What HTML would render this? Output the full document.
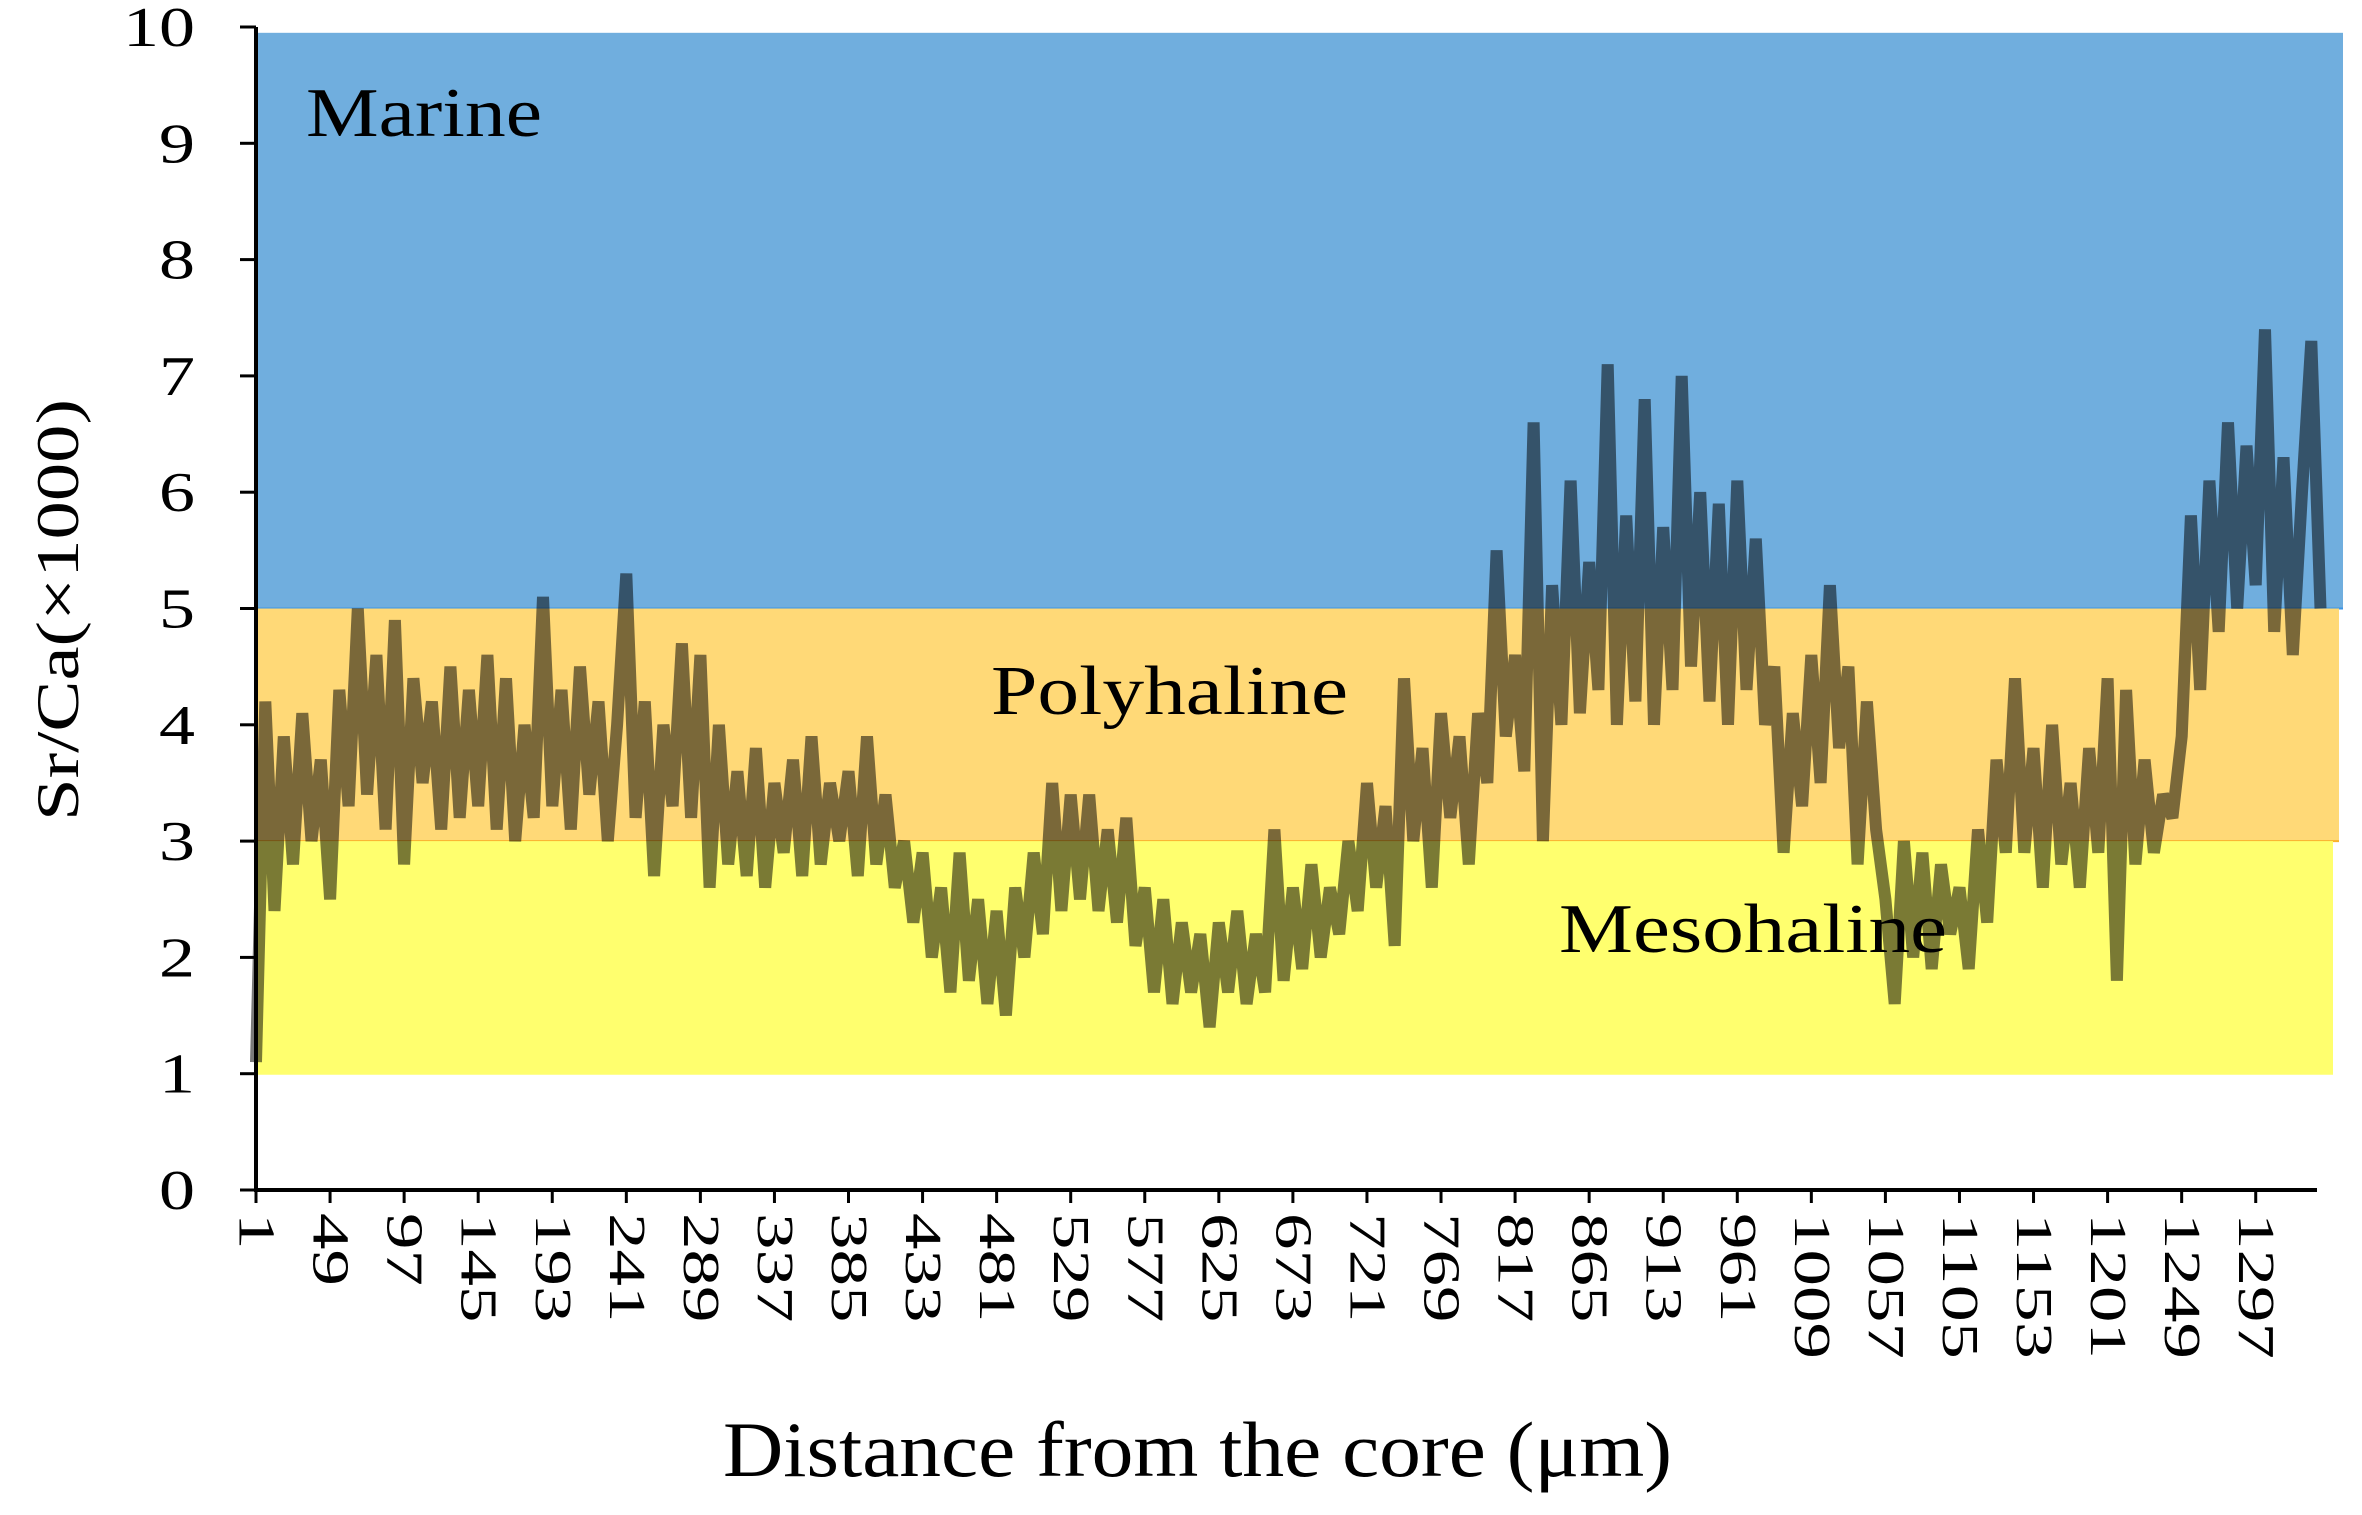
<!DOCTYPE html>
<html><head><meta charset="utf-8"><style>
html,body{margin:0;padding:0;background:#fff;}
svg{display:block;font-family:"Liberation Serif",serif;}
</style></head><body>
<svg id="chart" width="2362" height="1515" viewBox="0 0 2362 1515" xmlns="http://www.w3.org/2000/svg">
<g id="bands"></g>
<g id="series"></g>
<g id="axes"></g>
<g id="labels"></g>
</svg>
<script>
const distStart = 1;
const distStep = 6;
const srca = [
1.1,4.2,2.4,3.9,2.8,4.1,3.0,3.7,2.5,4.3,
3.3,5.0,3.4,4.6,3.1,4.9,2.8,4.4,3.5,4.2,
3.1,4.5,3.2,4.3,3.3,4.6,3.1,4.4,3.0,4.0,
3.2,5.1,3.3,4.3,3.1,4.5,3.4,4.2,3.0,4.0,
5.3,3.2,4.2,2.7,4.0,3.3,4.7,3.2,4.6,2.6,
4.0,2.8,3.6,2.7,3.8,2.6,3.5,2.9,3.7,2.7,
3.9,2.8,3.5,3.0,3.6,2.7,3.9,2.8,3.4,2.6,
3.0,2.3,2.9,2.0,2.6,1.7,2.9,1.8,2.5,1.6,
2.4,1.5,2.6,2.0,2.9,2.2,3.5,2.4,3.4,2.5,
3.4,2.4,3.1,2.3,3.2,2.1,2.6,1.7,2.5,1.6,
2.3,1.7,2.2,1.4,2.3,1.7,2.4,1.6,2.2,1.7,
3.1,1.8,2.6,1.9,2.8,2.0,2.6,2.2,3.0,2.4,
3.5,2.6,3.3,2.1,4.4,3.0,3.8,2.6,4.1,3.2,
3.9,2.8,4.1,3.5,5.5,3.9,4.6,3.6,6.6,3.0,
5.2,4.0,6.1,4.1,5.4,4.3,7.1,4.0,5.8,4.2,
6.8,4.0,5.7,4.3,7.0,4.5,6.0,4.2,5.9,4.0,
6.1,4.3,5.6,4.0,4.5,2.9,4.1,3.3,4.6,3.5,
5.2,3.8,4.5,2.8,4.2,3.1,2.5,1.6,3.0,2.0,
2.9,1.9,2.8,2.2,2.6,1.9,3.1,2.3,3.7,2.9,
4.4,2.9,3.8,2.6,4.0,2.8,3.5,2.6,3.8,2.9,
4.4,1.8,4.3,2.8,3.7,2.9,3.4,3.2,3.9,5.8,
4.3,6.1,4.8,6.6,5.0,6.4,5.2,7.4,4.8,6.3,
4.6,6.0,7.3,5.0
];
const yTicks = [0,1,2,3,4,5,6,7,8,9,10];
const xTicks = [1,49,97,145,193,241,289,337,385,433,481,529,577,625,673,721,769,817,865,913,961,1009,1057,1105,1153,1201,1249,1297];
const bandNames = ["Marine","Polyhaline","Mesohaline"];
const bandLow = [5,3,1];
const bandHigh = [9.95,5,3];

const NS="http://www.w3.org/2000/svg";
const X0=256, XPU=1.543, Y0=1190, YPU=116.3;
function xs(d){return X0+(d-1)*XPU;}
function ys(v){return Y0-v*YPU;}
function mk(tag,attrs,parent){const e=document.createElementNS(NS,tag);for(const k in attrs)e.setAttribute(k,attrs[k]);parent.appendChild(e);return e;}

const bands=document.getElementById('bands');
const bandColors=["#70aede","#ffd977","#ffff6e"];
const bandRight=[2343,2339,2333];
const bandEdge=["#3d95e6","#f9b12a","#ffff6e"];
for(let i=0;i<bandNames.length;i++){
  const r=mk('rect',{x:258,y:ys(bandHigh[i]),width:bandRight[i]-258,height:ys(bandLow[i])-ys(bandHigh[i]),fill:bandColors[i]},bands);
  
  
  const l=mk('line',{x1:258,x2:bandRight[i],y1:ys(bandLow[i]),y2:ys(bandLow[i]),stroke:bandEdge[i],'stroke-width':2},bands);
  
  
}

const series=document.getElementById('series');
let pts=srca.map((v,i)=>xs(distStart+i*distStep).toFixed(1)+','+ys(v).toFixed(1)).join(' ');
const pl=mk('polyline',{points:pts,fill:'none',stroke:'#000','stroke-opacity':0.52,'stroke-width':12,'stroke-linejoin':'miter','stroke-miterlimit':1.5},series);



const axes=document.getElementById('axes');
const ya=mk('line',{x1:256,x2:256,y1:ys(10),y2:Y0+2,stroke:'#000','stroke-width':4},axes);


const xa=mk('line',{x1:254,x2:2317,y1:Y0,y2:Y0,stroke:'#000','stroke-width':4},axes);


yTicks.forEach(t=>{
  const tk=mk('line',{x1:240,x2:256,y1:ys(t),y2:ys(t),stroke:'#000','stroke-width':3},axes);
  
  
  const s=String(t);
  const tx=mk('text',{x:195,y:ys(t)+19,'text-anchor':'end','font-size':56,textLength:s.length*36,lengthAdjust:'spacingAndGlyphs',fill:'#000'},axes);
  tx.textContent=s;
  
  
});
xTicks.forEach(t=>{
  const x=xs(t);
  const tk=mk('line',{x1:x,x2:x,y1:Y0,y2:Y0+13,stroke:'#000','stroke-width':3},axes);
  
  
  const s=String(t);
  const tx=mk('text',{x:0,y:0,transform:'translate('+x+',1213) rotate(90)','dominant-baseline':'central','font-size':52,textLength:s.length*36.5,lengthAdjust:'spacingAndGlyphs',fill:'#000'},axes);
  tx.textContent=s;
  
  
});

const labels=document.getElementById('labels');
const labelPos=[[306,136,236],[991,714,357],[1559,952,388]];
bandNames.forEach((n,i)=>{
  const t=mk('text',{x:labelPos[i][0],y:labelPos[i][1],'font-size':70,textLength:labelPos[i][2],lengthAdjust:'spacingAndGlyphs',fill:'#000'},labels);
  t.textContent=n;
  
  
});
const yt=mk('text',{x:0,y:0,transform:'translate(78,610) rotate(-90)','text-anchor':'middle','font-size':60,textLength:422,lengthAdjust:'spacingAndGlyphs',fill:'#000'},labels);
yt.textContent='Sr/Ca(×1000)';


const xt=mk('text',{x:723,y:1476,'font-size':78,textLength:949,lengthAdjust:'spacingAndGlyphs',fill:'#000'},labels);
xt.textContent='Distance from the core (μm)';


</script>
</body></html>
